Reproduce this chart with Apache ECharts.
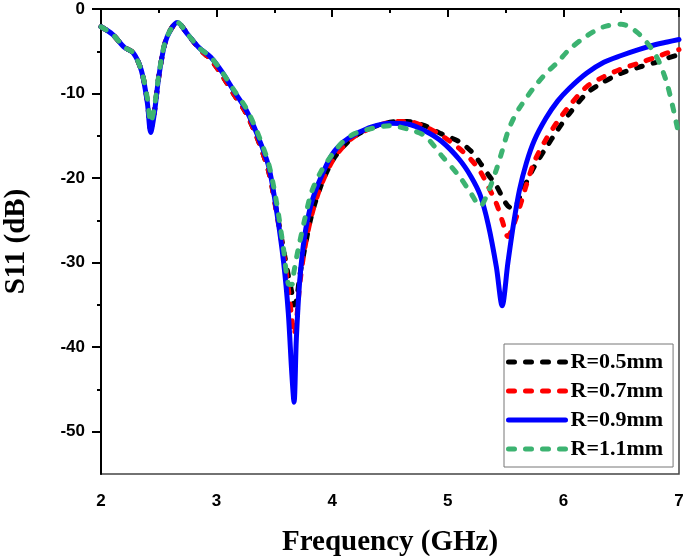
<!DOCTYPE html>
<html>
<head>
<meta charset="utf-8">
<script src="https://cdn.jsdelivr.net/npm/echarts@6/dist/echarts.min.js"></script>
<style>
  html, body { margin: 0; padding: 0; background: #fff; }
  #chart { width: 685px; height: 556px; }
</style>
</head>
<body>
<div id="chart"></div>
<script>
// frequency grid (GHz), shared by every curve
const freq = [
  2.0, 2.1, 2.2, 2.28, 2.35, 2.4, 2.43, 2.46, 2.5, 2.55, 2.6, 2.66, 2.75, 2.85, 2.95,
  3.05, 3.15, 3.25, 3.35, 3.45, 3.52, 3.58, 3.62, 3.65, 3.67, 3.69, 3.72, 3.76, 3.82, 3.9,
  4.0, 4.1, 4.2, 4.35, 4.5, 4.65, 4.8, 4.95, 5.1, 5.2, 5.28, 5.35, 5.42, 5.47, 5.52,
  5.57, 5.62, 5.68, 5.75, 5.85, 5.95, 6.05, 6.2, 6.35, 6.5, 6.65, 6.8, 6.9, 7.0
]

// S11 (dB)
const r05 = [
  -2.1, -3.0, -4.5, -5.2, -7.3, -10.8, -14.2, -12.3, -8.0, -4.2, -2.5, -1.6, -3.0, -4.7, -6.0,
  -7.9, -10.1, -12.2, -15.2, -19.2, -24.0, -28.5, -31.5, -33.5, -35.0, -34.5, -31.5, -28.5, -24.5, -21.0,
  -18.0, -16.2, -15.0, -14.0, -13.4, -13.3, -13.8, -14.8, -15.7, -16.8, -18.2, -19.6, -20.9, -22.2, -23.3,
  -23.6, -22.3, -20.5, -18.6, -16.4, -14.3, -12.4, -10.0, -8.6, -7.6, -6.9, -6.3, -5.8, -5.4
]
const r07 = [
  -2.1, -3.0, -4.5, -5.2, -7.3, -10.8, -14.2, -12.3, -8.0, -4.2, -2.5, -1.6, -3.0, -4.7, -6.0,
  -7.9, -10.1, -12.2, -15.2, -19.2, -24.2, -29.0, -33.0, -36.5, -38.5, -37.0, -32.5, -28.5, -24.5, -21.0,
  -18.0, -16.2, -15.0, -14.0, -13.4, -13.3, -13.9, -15.0, -16.5, -17.8, -19.2, -21.0, -23.0, -25.0, -26.9,
  -25.5, -23.5, -20.8, -18.0, -15.4, -13.3, -11.5, -9.2, -8.0, -7.1, -6.4, -5.7, -5.2, -4.8
]
const r09 = [
  -2.1, -3.0, -4.5, -5.2, -7.3, -11.0, -14.6, -12.5, -8.0, -4.2, -2.5, -1.6, -3.0, -4.6, -5.7,
  -7.5, -9.7, -11.8, -14.8, -18.6, -24.0, -30.0, -35.9, -43.0, -46.5, -39.0, -32.0, -27.0, -23.0, -20.0,
  -17.2, -15.7, -14.8, -13.9, -13.5, -13.6, -14.4, -15.7, -17.8, -19.8, -22.0, -25.5, -30.5, -35.1, -30.0,
  -25.3, -21.4, -18.2, -15.5, -12.9, -10.9, -9.4, -7.6, -6.3, -5.5, -4.8, -4.2, -3.9, -3.6
]
const r11 = [
  -2.1, -3.0, -4.5, -5.2, -7.3, -10.5, -13.4, -11.8, -7.8, -4.1, -2.5, -1.6, -3.0, -4.6, -5.7,
  -7.5, -9.6, -11.6, -14.5, -18.3, -23.0, -28.5, -32.5, -32.6, -31.0, -29.5, -27.5, -25.0, -21.7, -19.3,
  -17.2, -15.6, -14.7, -14.1, -13.8, -14.2, -15.0, -17.4, -19.8, -21.8, -23.3, -21.6, -19.0, -16.8, -14.5,
  -12.9, -11.7, -10.5, -9.2, -7.6, -6.3, -4.8, -3.2, -2.1, -1.8, -2.9, -5.5, -9.0, -15.0
]

const names = ["R=0.5mm", "R=0.7mm", "R=0.9mm", "R=1.1mm"]
const colors = ["#000000", "#ff0000", "#0000ff", "#3cb371"]

const yMajor = [0, -10, -20, -30, -40, -50]
const yMinor = [-5, -15, -25, -35, -45]

const chart = echarts.init(document.getElementById("chart"))

const pairs = (vals) => freq.map((f, i) => [f, vals[i]])

const makeSeries = (name, vals, color, dashed) => ({
  name: name,
  type: "line",
  data: pairs(vals),
  smooth: 0.3,
  showSymbol: false,
  symbol: "none",
  animation: false,
  lineStyle: {
    color: color,
    width: 5,
    type: dashed ? [6, 11] : "solid",
    cap: "round",
  },
  itemStyle: { color: color },
})

const tickFont = {
  fontFamily: "Liberation Sans",
  fontWeight: "bold",
  fontSize: 17,
  color: "#000",
}

const option = {
  animation: false,
  grid: {
    left: 101,
    right: 6,
    top: 9,
    bottom: 82,
    outerBoundsMode: "none",
    containLabel: false,
    show: true,
    borderColor: "#444",
    borderWidth: 1.5,
  },
  legend: {
    orient: "vertical",
    left: 504,
    top: 344,
    padding: [7, 10, 7, 2],
    itemWidth: 57,
    itemHeight: 14,
    itemGap: 7,
    borderColor: "#777",
    borderWidth: 1,
    backgroundColor: "#fff",
    itemStyle: { opacity: 0 },
    lineStyle: { width: 5, cap: "round" },
    textStyle: {
      fontFamily: "Liberation Serif",
      fontWeight: "bold",
      fontSize: 22,
      color: "#000",
    },
    data: names,
  },
  xAxis: {
    type: "value",
    min: 2,
    max: 7,
    interval: 1,
    name: "Frequency (GHz)",
    nameLocation: "middle",
    nameGap: 54,
    nameTextStyle: {
      fontFamily: "Liberation Serif",
      fontWeight: "bold",
      fontSize: 29,
      color: "#000",
    },
    axisLine: { show: true, lineStyle: { color: "#000", width: 2 } },
    axisTick: { show: true, length: 8, lineStyle: { color: "#000", width: 2 } },
    minorTick: { show: true, splitNumber: 2, length: 4, lineStyle: { color: "#000", width: 2 } },
    axisLabel: Object.assign({ margin: 19 }, tickFont),
    splitLine: { show: false },
  },
  yAxis: [
    {
      type: "value",
      min: -55,
      max: 0,
      name: "S11 (dB)",
      nameLocation: "middle",
      nameGap: 70,
      nameTextStyle: {
        fontFamily: "Liberation Serif",
        fontWeight: "bold",
        fontSize: 29,
        color: "#000",
      },
      axisLine: { show: true, lineStyle: { color: "#000", width: 2 } },
      axisTick: {
        show: true,
        length: 9,
        customValues: yMajor,
        lineStyle: { color: "#000", width: 2 },
      },
      axisLabel: Object.assign({ margin: 16, customValues: yMajor }, tickFont),
      splitLine: { show: false },
    },
    {
      type: "value",
      min: -55,
      max: 0,
      position: "left",
      axisLine: { show: false },
      axisTick: {
        show: true,
        length: 4,
        customValues: yMinor,
        lineStyle: { color: "#000", width: 2 },
      },
      axisLabel: { show: false },
      splitLine: { show: false },
    },
  ],
  series: [
    makeSeries(names[0], r05, colors[0], true),
    makeSeries(names[1], r07, colors[1], true),
    makeSeries(names[2], r09, colors[2], false),
    makeSeries(names[3], r11, colors[3], true),
  ],
}

chart.setOption(option)
</script>
</body>
</html>
